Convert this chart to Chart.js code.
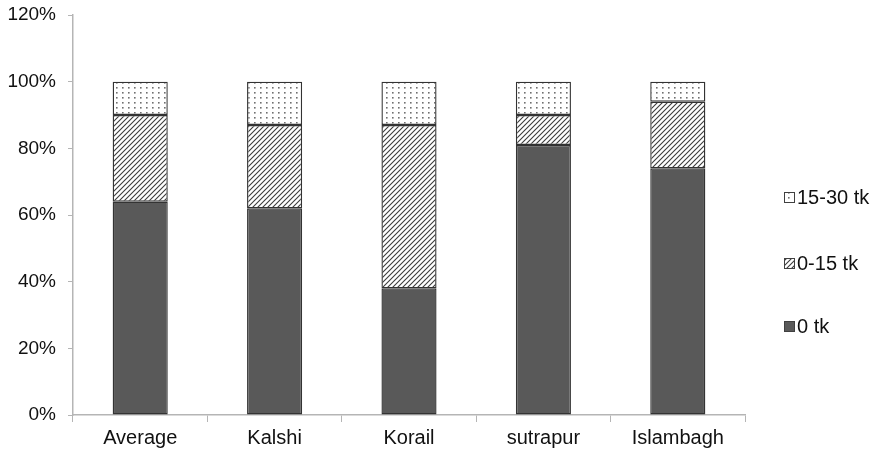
<!DOCTYPE html>
<html>
<head>
<meta charset="utf-8">
<script src="https://cdn.jsdelivr.net/npm/chart.js@4/dist/chart.umd.min.js"></script>
<style>
  html, body { margin: 0; padding: 0; background: #fff; }
  #wrap { width: 880px; height: 456px; }
</style>
</head>
<body>
<div id="wrap"><canvas id="c" width="880" height="456"></canvas></div>
<script>
// Share of trips by fare band, per area
const categories = ['Average', 'Kalshi', 'Korail', 'sutrapur', 'Islambagh'];
const fareFree   = [64, 62, 38, 81, 74];   // 0 tk
const fareLow    = [26, 25, 49,  9, 20];   // 0-15 tk
const fareMid    = [10, 13, 13, 10,  6];   // 15-30 tk
const seriesNames = ['0 tk', '0-15 tk', '15-30 tk'];
const yTicks = [0, 20, 40, 60, 80, 100, 120];

// Fill patterns for the hatched and dotted segments
function hatchPattern() {
  const t = document.createElement('canvas');
  t.width = 5; t.height = 5;
  const g = t.getContext('2d');
  g.fillStyle = '#ffffff';
  g.fillRect(0, 0, 5, 5);
  g.strokeStyle = '#3c3c3c';
  g.lineWidth = 1.1;
  g.beginPath();
  g.moveTo(-1, 6); g.lineTo(6, -1);
  g.moveTo(-1, 1); g.lineTo(1, -1);
  g.moveTo(4, 6); g.lineTo(6, 4);
  g.stroke();
  return g.createPattern(t, 'repeat');
}
function dotPattern() {
  const t = document.createElement('canvas');
  t.width = 6; t.height = 5;
  const g = t.getContext('2d');
  g.fillStyle = '#ffffff';
  g.fillRect(0, 0, 6, 5);
  g.fillStyle = '#707070';
  g.fillRect(2, 2, 1.6, 1.6);
  return g.createPattern(t, 'repeat');
}

const FONT = "'Liberation Sans', Arial, sans-serif";

// Legend drawn at the right, top item first (reverse of stacking order)
const sideLegend = {
  id: 'sideLegend',
  afterDraw(chart) {
    const ctx = chart.ctx;
    const rows = [197, 263, 326];
    const items = chart.data.datasets.slice().reverse();
    ctx.save();
    ctx.font = '20px ' + FONT;
    ctx.textBaseline = 'middle';
    ctx.textAlign = 'left';
    items.forEach((ds, i) => {
      const y = rows[i];
      ctx.fillStyle = ds.backgroundColor;
      ctx.fillRect(784, y - 5, 10, 10);
      ctx.strokeStyle = '#404040';
      ctx.lineWidth = 1;
      ctx.strokeRect(784.5, y - 4.5, 10, 10);
      ctx.fillStyle = '#111';
      ctx.fillText(ds.label, 797, y + 1);
    });
    ctx.restore();
  }
};

const common = {
  borderColor: '#333333',
  borderWidth: 1.4,
  borderSkipped: false,
  barPercentage: 0.41,
  categoryPercentage: 1.0
};

new Chart(document.getElementById('c'), {
  type: 'bar',
  data: {
    labels: categories,
    datasets: [
      Object.assign({ label: seriesNames[0], data: fareFree, backgroundColor: '#595959' }, common),
      Object.assign({ label: seriesNames[1], data: fareLow, backgroundColor: hatchPattern() }, common),
      Object.assign({ label: seriesNames[2], data: fareMid, backgroundColor: dotPattern() }, common)
    ]
  },
  options: {
    responsive: false,
    animation: false,
    layout: { padding: { left: 0, right: 135, top: 15, bottom: 0 } },
    plugins: {
      legend: { display: false },
      tooltip: { enabled: false }
    },
    scales: {
      x: {
        stacked: true,
        grid: { drawOnChartArea: false, drawTicks: true, tickLength: 7, color: '#b5b5b5', offset: true },
        border: { color: '#b5b5b5', width: 1.5 },
        ticks: { color: '#111', font: { family: FONT, size: 20 }, padding: 4, maxRotation: 0 },
        afterFit(scale) { scale.height = 41; scale.paddingLeft = 0; scale.paddingRight = 0; }
      },
      y: {
        stacked: true,
        min: 0,
        max: 120,
        afterBuildTicks(scale) { scale.ticks = yTicks.map(v => ({ value: v })); },
        grid: { drawOnChartArea: false, drawTicks: true, tickLength: 5, color: '#b5b5b5' },
        border: { color: '#b5b5b5', width: 1.5 },
        ticks: {
          color: '#111',
          font: { family: FONT, size: 19 },
          padding: 12,
          callback: v => v + '%'
        },
        afterFit(scale) { scale.width = 73; scale.paddingTop = 0; scale.paddingBottom = 0; }
      }
    }
  },
  plugins: [sideLegend]
});
</script>
</body>
</html>
